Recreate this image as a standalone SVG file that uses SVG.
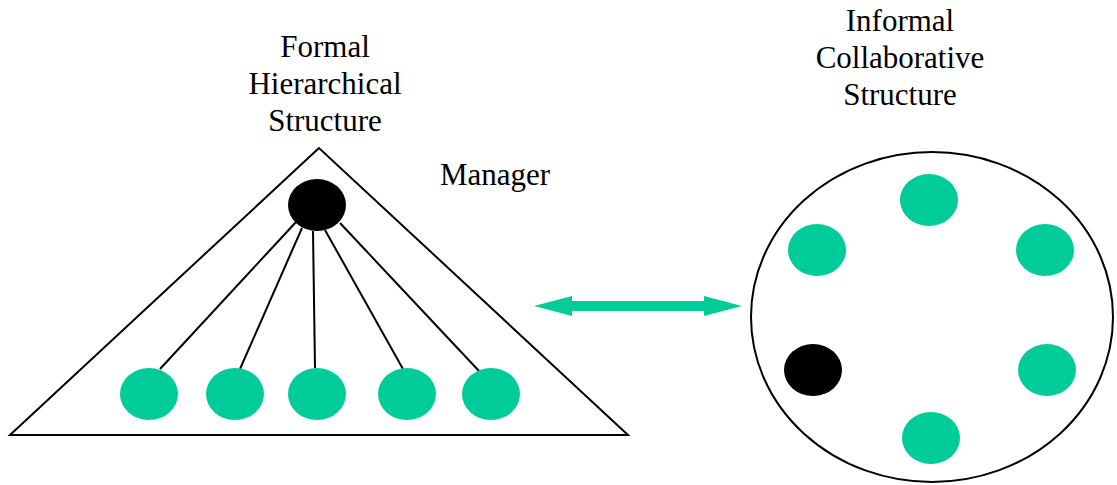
<svg xmlns="http://www.w3.org/2000/svg" width="1117" height="485" viewBox="0 0 1117 485">
<style>
.t{font-family:"Liberation Serif","Times New Roman",serif;font-size:31px;fill:#000;text-anchor:middle}
.g{fill:#00CC99}
.b{fill:#000}
.o{fill:none;stroke:#000;stroke-width:2}
.l{stroke:#000;stroke-width:2}
</style>
<rect width="1117" height="485" fill="#fff"/>
<g id="formal-label"><text class="t" x="325" y="57">Formal</text><text class="t" x="325" y="94">Hierarchical</text><text class="t" x="325" y="131">Structure</text></g>
<g id="informal-label"><text class="t" x="900" y="31">Informal</text><text class="t" x="900" y="68">Collaborative</text><text class="t" x="900" y="105">Structure</text></g>
<g id="manager-label"><text class="t" x="495" y="185">Manager</text></g>
<g id="triangle"><polygon class="o" points="319,148 10,435 628,435"/></g>
<g id="connectors">
<line class="l" x1="296" y1="222" x2="160" y2="369"/>
<line class="l" x1="302" y1="228" x2="240" y2="369"/>
<line class="l" x1="313" y1="231" x2="315" y2="368"/>
<line class="l" x1="325" y1="230" x2="403" y2="369"/>
<line class="l" x1="340" y1="223" x2="479" y2="371"/>
<polygon class="g" points="534,306 572,296 572,301 704,301 704,296 742,306 704,316 704,311 572,311 572,316"/>
</g>
<g id="manager"><ellipse class="b" cx="317" cy="205" rx="29" ry="26"/></g>
<g id="h1"><ellipse class="g" cx="149" cy="394" rx="29" ry="26"/></g>
<g id="h2"><ellipse class="g" cx="235" cy="394" rx="29" ry="26"/></g>
<g id="h3"><ellipse class="g" cx="317" cy="394" rx="29" ry="26"/></g>
<g id="h4"><ellipse class="g" cx="407" cy="394" rx="29" ry="26"/></g>
<g id="h5"><ellipse class="g" cx="491" cy="394" rx="29" ry="26"/></g>
<g id="circle"><ellipse class="o" cx="932" cy="317" rx="181" ry="165"/></g>
<g id="c1"><ellipse class="g" cx="929" cy="200" rx="29" ry="26"/></g>
<g id="c2"><ellipse class="g" cx="817" cy="250" rx="29" ry="26"/></g>
<g id="c3"><ellipse class="g" cx="1045" cy="250" rx="29" ry="26"/></g>
<g id="c4"><ellipse class="g" cx="1047" cy="370" rx="29" ry="26"/></g>
<g id="c5"><ellipse class="g" cx="931" cy="438" rx="29" ry="26"/></g>
<g id="c6"><ellipse class="b" cx="813" cy="370" rx="29" ry="26"/></g>
</svg>
